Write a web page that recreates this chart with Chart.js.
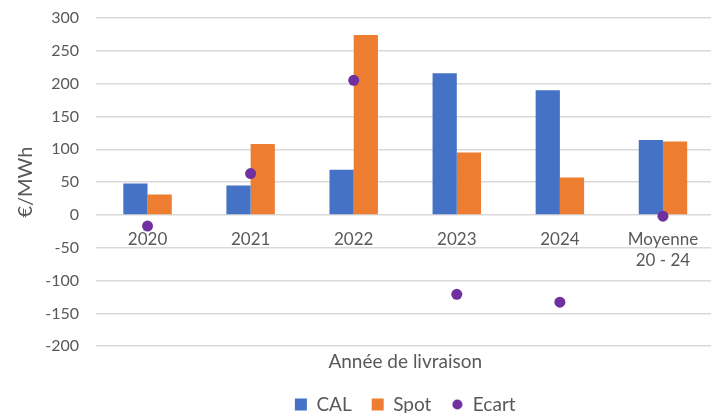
<!DOCTYPE html>
<html>
<head>
<meta charset="utf-8">
<script src="https://cdn.jsdelivr.net/npm/chart.js@4"></script>
<style>
  html, body { margin: 0; padding: 0; background: #fff; overflow: hidden; }
  #wrap { width: 720px; height: 424px; }
</style>
</head>
<body>
<div id="wrap"><canvas id="chart" width="720" height="424"></canvas></div>
<script>
// values (€/MWh)
const categories = ['2020', '2021', '2022', '2023', '2024', ['Moyenne', '20 - 24']];
const calValues = [48, 45, 69, 216, 190, 114];
const spotValues = [31, 108, 274, 95, 57, 112];
const ecartValues = [-17, 63, 205, -121, -133, -2];

const textGrey = '#595959';
const fontFamily = 'Lato, "Open Sans", sans-serif';

// small round marker for the legend entry of Ecart
const dot = document.createElement('canvas');
dot.width = 11;
dot.height = 11;
const dctx = dot.getContext('2d');
dctx.fillStyle = '#7030A0';
dctx.beginPath();
dctx.arc(5.5, 5.5, 5, 0, Math.PI * 2);
dctx.fill();

// category labels sit just under the zero line, like in Excel
const categoryLabels = {
  id: 'categoryLabels',
  afterDraw(chart) {
    const { ctx, scales: { x, y } } = chart;
    const y0 = y.getPixelForValue(0);
    ctx.save();
    ctx.font = '17px ' + fontFamily;
    ctx.fillStyle = textGrey;
    ctx.textAlign = 'center';
    ctx.textBaseline = 'middle';
    categories.forEach((label, i) => {
      [].concat(label).forEach((line, j) => {
        ctx.fillText(line, x.getPixelForValue(i), y0 + 25 + j * 21);
      });
    });
    ctx.restore();
  }
};

new Chart(document.getElementById('chart'), {
  type: 'bar',
  data: {
    labels: categories,
    datasets: [
      {
        label: 'CAL',
        data: calValues,
        backgroundColor: '#4472C4',
        pointStyle: 'rect',
        order: 1
      },
      {
        label: 'Spot',
        data: spotValues,
        backgroundColor: '#ED7D31',
        pointStyle: 'rect',
        order: 1
      },
      {
        type: 'line',
        label: 'Ecart',
        data: ecartValues,
        showLine: false,
        borderColor: '#7030A0',
        backgroundColor: '#7030A0',
        pointBackgroundColor: '#7030A0',
        pointBorderWidth: 0,
        pointRadius: 5.5,
        pointHoverRadius: 5.5,
        order: 0
      }
    ]
  },
  options: {
    responsive: false,
    animation: false,
    layout: { padding: { top: 18, right: 0, bottom: 0, left: 0 } },
    datasets: {
      bar: { categoryPercentage: 0.47, barPercentage: 1 }
    },
    scales: {
      x: {
        grid: { display: false, drawTicks: false },
        border: { display: false },
        ticks: { display: false },
        title: {
          display: true,
          text: 'Année de livraison',
          color: textGrey,
          font: { family: fontFamily, size: 19 },
          padding: { top: 4, bottom: 2 }
        }
      },
      y: {
        min: -200,
        max: 300,
        ticks: {
          stepSize: 50,
          color: textGrey,
          padding: 17,
          font: { family: fontFamily, size: 16 }
        },
        grid: { color: '#d9d9d9', lineWidth: 1.5, drawTicks: false },
        border: { display: false },
        title: {
          display: true,
          text: '€/MWh',
          color: textGrey,
          font: { family: fontFamily, size: 20 },
          padding: { top: 14, bottom: 4 }
        },
        afterFit(scale) {
          scale.width = 96;
          scale.paddingTop = 0;
          scale.paddingBottom = 0;
        }
      }
    },
    plugins: {
      tooltip: { enabled: false },
      legend: {
        position: 'bottom',
        fullSize: false,
        labels: {
          usePointStyle: true,
          boxWidth: 12,
          boxHeight: 12,
          padding: 20,
          color: textGrey,
          font: { family: fontFamily, size: 19 },
          sort: (a, b) => a.datasetIndex - b.datasetIndex,
          generateLabels(chart) {
            const items = Chart.defaults.plugins.legend.labels.generateLabels(chart);
            items.forEach(item => {
              if (item.datasetIndex === 2) item.pointStyle = dot;
            });
            return items;
          }
        }
      }
    }
  },
  plugins: [categoryLabels]
});
</script>
</body>
</html>
